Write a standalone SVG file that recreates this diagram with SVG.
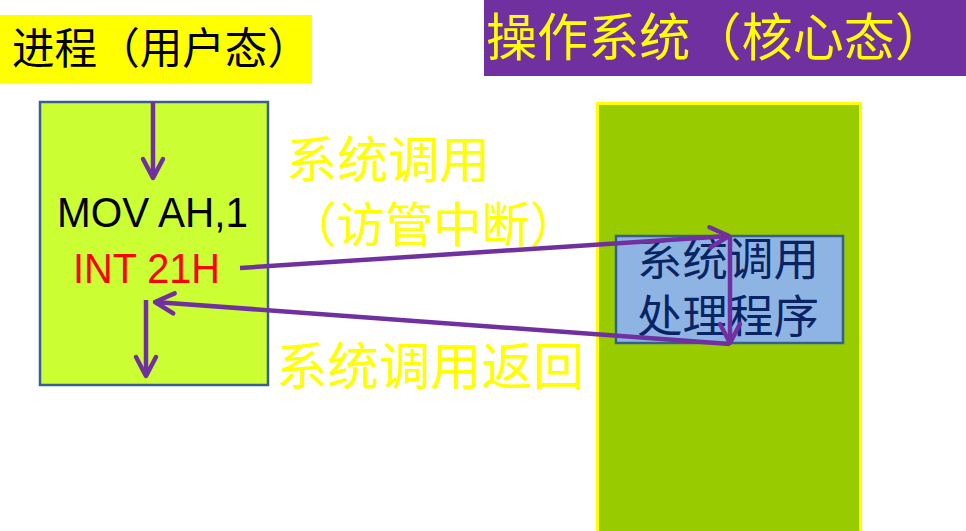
<svg xmlns="http://www.w3.org/2000/svg" width="966" height="531" viewBox="0 0 966 531">
<style>
.cjk{font-family:"Noto Sans CJK SC","Noto Sans",sans-serif}
.lat{font-family:"Liberation Sans","DejaVu Sans",sans-serif}
.conn{stroke:#7030A0;stroke-width:4.5;fill:none;marker-end:url(#arr)}
</style>
<defs>
<marker id="arr" markerUnits="userSpaceOnUse" viewBox="-24 -14 28 28" markerWidth="28" markerHeight="28" refX="0" refY="0" orient="auto">
<path d="M-19,-10 L0,0 L-19,10" fill="none" stroke="#7030A0" stroke-width="4.5" stroke-linecap="round" stroke-linejoin="round"/>
</marker>
</defs>
<rect width="966" height="531" fill="#FFFFFF"/>
<g id="title-user">
<rect x="0" y="15" width="312" height="68" fill="#FFFF00"/>
<text x="12" y="64" class="cjk" font-size="43" fill="#000000" textLength="298" lengthAdjust="spacingAndGlyphs">进程（用户态）</text>
</g>
<g id="title-kernel">
<rect x="484" y="0" width="482" height="76" fill="#7030A0"/>
<text x="486" y="56" class="cjk" font-size="51" fill="#FFFF00" textLength="460" lengthAdjust="spacingAndGlyphs">操作系统（核心态）</text>
</g>
<g id="process">
<rect x="40" y="102" width="228" height="283" fill="#CCFF33" stroke="#3A5F8F" stroke-width="2.5"/>
<text x="57" y="227" class="lat" font-size="42" fill="#000000" textLength="191" lengthAdjust="spacingAndGlyphs">MOV AH,1</text>
<text x="73" y="283" class="lat" font-size="42" fill="#FF0000" textLength="147" lengthAdjust="spacingAndGlyphs">INT 21H</text>
</g>
<g id="os">
<rect x="597.5" y="103.5" width="263" height="430" fill="#99CC00" stroke="#FFFF00" stroke-width="3"/>
</g>
<g id="handler">
<rect x="616" y="236" width="227" height="107" fill="#8EB4E3" stroke="#365F91" stroke-width="2.5"/>
<text x="637" y="276" class="cjk" font-size="45" fill="#0A2463" textLength="182" lengthAdjust="spacingAndGlyphs">系统调用</text>
<text x="637" y="333" class="cjk" font-size="45" fill="#0A2463" textLength="182" lengthAdjust="spacingAndGlyphs">处理程序</text>
</g>
<g id="labels">
<text x="286" y="178" class="cjk" font-size="50" fill="#FFFF00" textLength="204" lengthAdjust="spacingAndGlyphs">系统调用</text>
<text x="288" y="242" class="cjk" font-size="48" fill="#FFFF00" textLength="290" lengthAdjust="spacingAndGlyphs">（访管中断）</text>
<text x="276" y="385" class="cjk" font-size="51" fill="#FFFF00" textLength="308" lengthAdjust="spacingAndGlyphs">系统调用返回</text>
</g>
<g id="connectors">
<path class="conn" d="M153,102 L153,178"/>
<path class="conn" d="M240,268 L729,236"/>
<path class="conn" d="M730,237 L730,343"/>
<path class="conn" d="M730,344 L155,302"/>
<path class="conn" d="M146,300 L146,376"/>
</g>
</svg>
